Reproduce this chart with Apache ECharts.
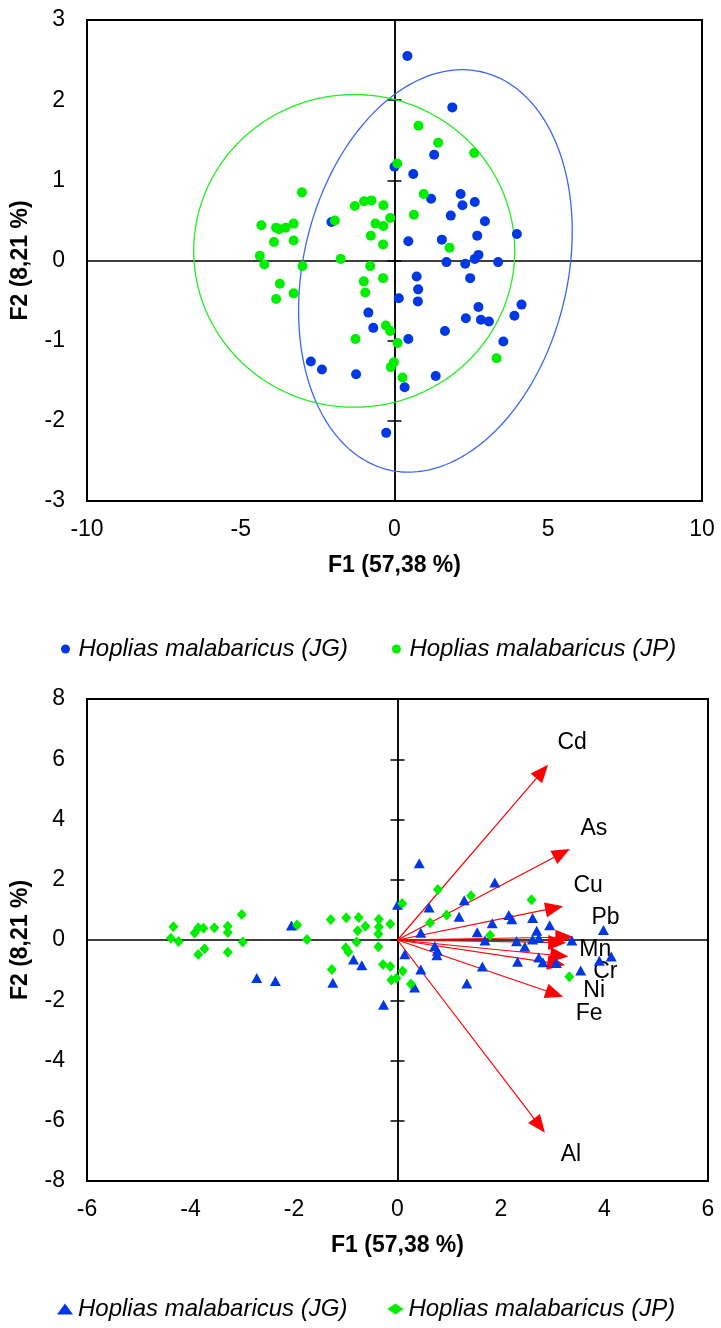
<!DOCTYPE html>
<html><head><meta charset="utf-8">
<script src="https://cdn.jsdelivr.net/npm/echarts@6/dist/echarts.min.js"></script>
<style>html,body{margin:0;padding:0;background:#fff}#c{width:721px;height:1328px}</style>
</head><body><div id="c"></div>
<script>
// ---- data ----
const groupNames = ['Hoplias malabaricus (JG)', 'Hoplias malabaricus (JP)'];
const jgF1 = [0.42,1.88,1.29,0.00,0.61,1.19,2.15,2.21,2.61,1.83,2.94,3.98,0.45,1.54,2.69,1.69,2.30,2.61,2.73,3.37,0.72,2.46,0.77,0.76,0.14,2.73,4.13,3.90,2.32,2.81,3.07,1.64,0.45,3.54,1.34,0.33,-0.27,-0.85,-0.69,-2.72,-2.36,-1.25,-2.05];
const jgF2 = [2.55,1.91,1.32,1.17,1.08,0.77,0.83,0.69,0.73,0.56,0.49,0.33,0.24,0.26,0.31,-0.02,-0.04,0.02,0.07,-0.02,-0.20,-0.22,-0.36,-0.51,-0.47,-0.58,-0.55,-0.69,-0.72,-0.74,-0.76,-0.88,-0.98,-1.01,-1.44,-1.58,-2.15,-0.65,-0.84,-1.26,-1.36,-1.42,0.48];
const jpF1 = [0.09,-3.01,-1.94,-1.29,-0.99,-0.75,-0.36,-0.14,-0.62,-0.36,-4.33,-3.85,-3.75,-3.54,-3.28,-3.92,-3.28,-4.38,-4.23,-2.99,-1.75,-0.77,-0.37,-0.79,-0.37,-1.00,-0.95,-3.73,-3.28,-3.85,-1.27,-0.28,-0.14,0.10,-0.02,-0.12,0.26,0.78,1.42,2.59,0.95,0.63,1.79,3.32];
const jpF2 = [1.21,0.85,0.50,0.68,0.74,0.75,0.69,0.53,0.46,0.43,0.44,0.41,0.39,0.41,0.46,0.23,0.25,0.06,-0.05,-0.07,0.02,0.31,0.20,-0.07,-0.22,-0.26,-0.40,-0.29,-0.41,-0.48,-0.98,-0.81,-0.88,-1.03,-1.27,-1.33,-1.46,1.68,1.47,1.34,0.83,0.57,0.16,-1.22];
// confidence ellipses: centre, radii along F1/F2, phase of F2 (pi/2 = axis aligned)
const ellipseCx = [1.33, -1.31];
const ellipseCy = [-0.13, 0.12];
const ellipseRx = [4.45, 5.22];
const ellipseRy = [2.51, 1.95];
const ellipsePhase = [1.373, Math.PI/2];
// variable loadings (biplot)
const variables = ['Cd','As','Cu','Pb','Mn','Cr','Ni','Fe','Al'];
const loadF1 = [2.91,3.33,3.20,3.40,3.26,3.30,3.24,3.20,2.85];
const loadF2 = [5.82,3.02,1.12,0.10,-0.09,-0.55,-0.83,-1.88,-6.40];
const axisTitleX = 'F1 (57,38 %)';
const axisTitleY = 'F2 (8,21 %)';

// ---- styles ----
const FONT = 'Liberation Sans, Arial, sans-serif';
const BLUE = '#0038e6', GREEN = '#00ee00';
const ELL_COLORS = ['#3a66f5', '#22ee22'];
const labelOffsets = {Cd:[24,-22],As:[24,-20],Cu:[25,-21],Pb:[32,-19],Mn:[29,7],Cr:[37,15],Ni:[29,26],Fe:[26,17],Al:[26,22]};

function ellipsePoints(i){
  const pts = [];
  for (let k = 0; k <= 240; k++){
    const t = k/240*2*Math.PI;
    pts.push([ellipseCx[i] + ellipseRx[i]*Math.cos(t), ellipseCy[i] + ellipseRy[i]*Math.cos(t - ellipsePhase[i])]);
  }
  return pts;
}
const pairs = (a,b) => a.map((v,i)=>[v,b[i]]);

function labelAxis(gridIndex, min, max, interval, dim){
  return {type:'value', gridIndex, min, max, interval,
    axisLine:{show:false}, axisTick:{show:false}, splitLine:{show:false},
    axisLabel:{fontSize:23, color:'#000', fontFamily:FONT, margin: dim==='x'?17:22},
    name: dim==='x'?axisTitleX:axisTitleY, nameLocation:'middle', nameGap: dim==='x'?53:55,
    nameTextStyle:{fontSize:23, fontWeight:'bold', color:'#000', fontFamily:FONT},
    position: dim==='x'?'bottom':'left'};
}
function zeroAxis(gridIndex, min, max, interval, dim, base, tick, inside){
  return {type:'value', gridIndex, min, max, interval,
    position: dim==='x'?'bottom':'left',
    axisLine:{show:true, onZero:true, onZeroAxisIndex: base, lineStyle:{color:'#000', width:1.5}},
    axisTick:{show:tick, inside:inside, length:7, lineStyle:{color:'#000', width:1.5}},
    axisLabel:{show:false}, splitLine:{show:false}};
}

const option = {
  animation:false,
  backgroundColor:'#fff',
  textStyle:{fontFamily:FONT},
  grid:[
    {left:87, top:20, width:615, height:481, show:true, borderColor:'#000', borderWidth:2},
    {left:87, top:699, width:621, height:482, show:true, borderColor:'#000', borderWidth:2}
  ],
  xAxis:[
    labelAxis(0,-10,10,5,'x'), zeroAxis(0,-10,10,5,'x',0,false,false),
    labelAxis(1,-6,6,2,'x'), zeroAxis(1,-6,6,2,'x',3,false,false)
  ],
  yAxis:[
    labelAxis(0,-3,3,1,'y'), zeroAxis(0,-3,3,1,'y',0,true,true), zeroAxis(0,-3,3,1,'y',0,true,false),
    labelAxis(1,-8,8,2,'y'), zeroAxis(1,-8,8,2,'y',2,true,true), zeroAxis(1,-8,8,2,'y',2,true,false)
  ],
  legend:[
    {left:56, top:632, itemWidth:16, itemHeight:9, itemGap:44,
     textStyle:{fontSize:24, fontStyle:'italic', color:'#000', fontFamily:FONT},
     data:[{name:groupNames[0], icon:'circle'},{name:groupNames[1], icon:'circle'}]},
    {left:52, top:1292, itemWidth:16, itemHeight:11, itemGap:40,
     textStyle:{fontSize:24, fontStyle:'italic', color:'#000', fontFamily:FONT},
     data:[{name:groupNames[0], icon:'triangle'},{name:groupNames[1], icon:'diamond'}]}
  ],
  series:[
    {type:'line', name:'ellipse JG', xAxisIndex:0, yAxisIndex:0, data:ellipsePoints(0), showSymbol:false, silent:true,
     lineStyle:{color:ELL_COLORS[0], width:1.3}, itemStyle:{color:ELL_COLORS[0]}, z:1},
    {type:'line', name:'ellipse JP', xAxisIndex:0, yAxisIndex:0, data:ellipsePoints(1), showSymbol:false, silent:true,
     lineStyle:{color:ELL_COLORS[1], width:1.3}, itemStyle:{color:ELL_COLORS[1]}, z:1},
    {type:'scatter', name:groupNames[0], xAxisIndex:0, yAxisIndex:0, data:pairs(jgF1,jgF2), symbol:'circle', symbolSize:10,
     itemStyle:{color:BLUE, opacity:1}, z:3},
    {type:'scatter', name:groupNames[1], xAxisIndex:0, yAxisIndex:0, data:pairs(jpF1,jpF2), symbol:'circle', symbolSize:10,
     itemStyle:{color:GREEN, opacity:1}, z:4},
    {type:'custom', name:'loadings', xAxisIndex:2, yAxisIndex:3, data:pairs(loadF1,loadF2), z:2, silent:true,
     encode:{x:0,y:1},
     renderItem:function(params, api){
       const o = api.coord([0,0]);
       const t = api.coord([api.value(0), api.value(1)]);
       const dx = t[0]-o[0], dy = t[1]-o[1];
       const len = Math.hypot(dx,dy);
       const ux = dx/len, uy = dy/len;
       const L = 18, W = 7.5;
       const bx = t[0]-ux*L, by = t[1]-uy*L;
       const px = -uy, py = ux;
       const name = variables[params.dataIndex];
       const off = labelOffsets[name];
       return {type:'group', children:[
         {type:'line', shape:{x1:o[0],y1:o[1],x2:bx+ux*2,y2:by+uy*2}, style:{stroke:'#ff0000', lineWidth:1.2}},
         {type:'polygon', shape:{points:[[t[0],t[1]],[bx+px*W,by+py*W],[bx-px*W,by-py*W]]}, style:{fill:'#ff0000'}},
         {type:'text', x:t[0]+off[0], y:t[1]+off[1], style:{text:name, fontSize:23, fill:'#000', align:'center', verticalAlign:'middle', fontFamily:FONT}}
       ]};
     }},
    {type:'scatter', name:groupNames[0], xAxisIndex:2, yAxisIndex:3, data:pairs(jgF1,jgF2), symbol:'triangle', symbolSize:[11,10],
     itemStyle:{color:BLUE, opacity:1}, z:3},
    {type:'scatter', name:groupNames[1], xAxisIndex:2, yAxisIndex:3, data:pairs(jpF1,jpF2), symbol:'diamond', symbolSize:[10,11],
     itemStyle:{color:GREEN, opacity:1}, z:4}
  ]
};
const chart = echarts.init(document.getElementById('c'), null, {renderer:'canvas'});
chart.setOption(option);
</script></body></html>
